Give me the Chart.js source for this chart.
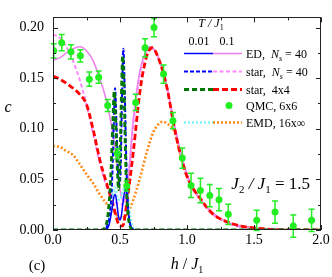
<!DOCTYPE html>
<html><head><meta charset="utf-8">
<script src="https://cdn.jsdelivr.net/npm/chart.js@4/dist/chart.umd.min.js"></script>
<style>html,body{margin:0;padding:0;background:#fff;}#wrap{width:332px;height:277px;position:relative;}</style>
</head><body><div id="wrap"><canvas id="c" width="332" height="277"></canvas></div>
<script>
// ---- tick labels ----
const xTicks = [0, 0.5, 1.0, 1.5, 2.0];
const yTicks = [0, 0.05, 0.10, 0.15, 0.20];

// ---- ED, Ns=40, T=0.01 (blue solid) ----
const edLowH = [0, 0.36, 0.40, 0.42, 0.44, 0.455, 0.465, 0.475, 0.49, 0.50, 0.51, 0.525, 0.54, 0.55, 0.56, 0.58, 0.62, 2.0];
const edLowC = [0, 0, 0.001, 0.006, 0.020, 0.033, 0.035, 0.028, 0.012, 0.010, 0.014, 0.030, 0.040, 0.036, 0.020, 0.004, 0, 0];

// ---- ED, Ns=40, T=0.1 (violet solid) ----
const edHighH = [0, 0.05, 0.1, 0.15, 0.2, 0.25, 0.3, 0.35, 0.4, 0.45, 0.48, 0.5, 0.53, 0.56, 0.6, 0.65, 0.7, 0.72, 0.75, 0.8, 0.85, 0.9, 0.95, 1.0, 1.05, 1.1, 1.2, 1.3, 1.4, 1.5, 1.6, 1.8, 2.0];
const edHighC = [0.168, 0.170, 0.175, 0.179, 0.181, 0.177, 0.167, 0.149, 0.127, 0.092, 0.062, 0.040, 0.028, 0.050, 0.110, 0.158, 0.178, 0.181, 0.179, 0.166, 0.142, 0.108, 0.078, 0.055, 0.040, 0.030, 0.016, 0.008, 0.004, 0.002, 0.001, 0.0002, 0];

// ---- star, Ns=40, T=0.01 (blue dashed) ----
const starLowH = [0, 0.37, 0.40, 0.42, 0.44, 0.455, 0.463, 0.475, 0.485, 0.495, 0.505, 0.515, 0.525, 0.535, 0.545, 0.555, 0.575, 0.61, 2.0];
const starLowC = [0, 0, 0.003, 0.012, 0.045, 0.110, 0.140, 0.100, 0.060, 0.045, 0.060, 0.130, 0.179, 0.140, 0.080, 0.035, 0.006, 0, 0];

// ---- star, Ns=40, T=0.1 (pink dashed) ----
const starHighH = [0, 0.05, 0.1, 0.15, 0.2, 0.25, 0.3, 0.35, 0.4, 0.45, 0.5, 0.53, 0.56, 0.6, 0.65, 0.7, 0.72, 0.75, 0.8, 0.85, 0.9, 0.95, 1.0, 1.1, 1.2, 1.3, 1.4, 1.5, 1.6, 1.8, 2.0];
const starHighC = [0.193, 0.190, 0.181, 0.167, 0.148, 0.124, 0.095, 0.066, 0.043, 0.030, 0.025, 0.028, 0.048, 0.105, 0.155, 0.177, 0.180, 0.178, 0.165, 0.141, 0.107, 0.077, 0.054, 0.029, 0.015, 0.007, 0.003, 0.001, 0.0005, 0.0001, 0];

// ---- star, 4x4, T=0.01 (green dashed) ----
const star4LowH = [0, 0.36, 0.39, 0.41, 0.43, 0.445, 0.457, 0.47, 0.48, 0.49, 0.50, 0.51, 0.52, 0.53, 0.54, 0.55, 0.57, 0.60, 2.0];
const star4LowC = [0, 0, 0.003, 0.015, 0.050, 0.100, 0.137, 0.100, 0.060, 0.040, 0.070, 0.130, 0.172, 0.140, 0.080, 0.035, 0.006, 0, 0];

// ---- star, 4x4, T=0.1 (red dashed) ----
const star4HighH = [0, 0.05, 0.1, 0.15, 0.2, 0.25, 0.3, 0.35, 0.4, 0.45, 0.5, 0.52, 0.55, 0.6, 0.65, 0.7, 0.74, 0.8, 0.85, 0.9, 0.95, 1.0, 1.05, 1.1, 1.15, 1.2, 1.3, 1.4, 1.5, 1.6, 1.7, 2.0];
const star4HighC = [0.152, 0.149, 0.145, 0.140, 0.134, 0.124, 0.099, 0.069, 0.046, 0.024, 0.004, 0.004, 0.026, 0.078, 0.138, 0.172, 0.180, 0.165, 0.141, 0.105, 0.075, 0.053, 0.040, 0.031, 0.022, 0.015, 0.008, 0.004, 0.002, 0.0008, 0.0003, 0];

// ---- EMD, 16x∞, T=0.01 (cyan dotted) ----
const emdLowH = [0, 0.38, 0.41, 0.43, 0.45, 0.46, 0.48, 0.50, 0.52, 0.54, 0.56, 0.58, 0.61, 2.0];
const emdLowC = [0, 0, 0.004, 0.020, 0.038, 0.042, 0.032, 0.030, 0.038, 0.042, 0.030, 0.010, 0, 0];

// ---- EMD, 16x∞, T=0.1 (orange dotted) ----
const emdHighH = [0, 0.05, 0.1, 0.15, 0.2, 0.25, 0.3, 0.35, 0.4, 0.45, 0.5, 0.55, 0.6, 0.65, 0.7, 0.75, 0.8, 0.82, 0.85, 0.9, 0.95, 1.0, 1.1, 1.2, 1.3, 1.4, 1.5, 1.6, 1.8, 2.0];
const emdHighC = [0.083, 0.082, 0.078, 0.074, 0.065, 0.055, 0.046, 0.035, 0.026, 0.019, 0.012, 0.015, 0.030, 0.052, 0.077, 0.097, 0.106, 0.107, 0.105, 0.099, 0.075, 0.053, 0.031, 0.015, 0.008, 0.004, 0.002, 0.0008, 0.0001, 0];

// ---- QMC, 6x6 (green points with error bars) ----
const qmcH = [0.005, 0.065, 0.134, 0.204, 0.271, 0.341, 0.408, 0.48, 0.55, 0.617, 0.687, 0.754, 0.825, 0.895, 0.965, 1.03, 1.10, 1.17, 1.239, 1.308, 1.52, 1.657, 1.793, 1.93];
const qmcC = [0.177, 0.185, 0.176, 0.172, 0.149, 0.151, 0.123, 0.0755, 0.0434, 0.126, 0.180, 0.200, 0.154, 0.108, 0.071, 0.044, 0.039, 0.034, 0.030, 0.0155, 0.0096, 0.0177, 0.0039, 0.0096];
const qmcErr = [0.007, 0.008, 0.007, 0.006, 0.007, 0.006, 0.006, 0.005, 0.005, 0.008, 0.009, 0.009, 0.009, 0.008, 0.010, 0.012, 0.012, 0.011, 0.011, 0.010, 0.010, 0.011, 0.011, 0.011];

const pts = (hs, cs) => hs.map((h, i) => ({x: h, y: cs[i]}));

const SERIF = '"Liberation Serif", "DejaVu Serif", serif';
const C_BLUE = '#0000ff', C_VIOLET = '#ee82ee', C_PINK = '#ff88ff', C_DGREEN = '#007800',
      C_RED = '#ff0000', C_QMC = '#22ee22', C_CYAN = '#7ff5f5', C_ORANGE = '#ff8c1a';

function line(label, data, color, width, dash, extra) {
  return Object.assign({label, data, borderColor: color, backgroundColor: color, borderWidth: width,
    borderDash: dash, pointRadius: 0, showLine: true, tension: 0.35, cubicInterpolationMode: 'monotone', fill: false}, extra || {});
}

const datasets = [
  {label: 'QMC, 6x6', data: pts(qmcH, qmcC), showLine: false, pointRadius: 3.5, pointBackgroundColor: C_QMC, pointBorderColor: C_QMC, borderColor: C_QMC, backgroundColor: C_QMC, pointBorderWidth: 0},
  line('star, 4x4 T=0.01', pts(star4LowH, star4LowC), C_DGREEN, 2.8, [5, 3]),
  line('star, Ns=40 T=0.01', pts(starLowH, starLowC), C_BLUE, 2, [4, 2]),
  line('ED, Ns=40 T=0.01', pts(edLowH, edLowC), C_BLUE, 1.5, []),
  line('EMD T=0.01', pts(emdLowH, emdLowC), C_CYAN, 2.6, [2, 2]),
  line('star, 4x4 T=0.1', pts(star4HighH, star4HighC), C_RED, 2.8, [6, 3]),
  line('ED, Ns=40 T=0.1', pts(edHighH, edHighC), C_VIOLET, 1.6, []),
  line('star, Ns=40 T=0.1', pts(starHighH, starHighC), C_PINK, 2, [4, 2.5]),
  line('EMD T=0.1', pts(emdHighH, emdHighC), C_ORANGE, 2.6, [2, 2]),
];

function drawRich(ctx, parts, x, y, align) {
  let w = 0;
  parts.forEach(p => { ctx.font = p.font; p.w = ctx.measureText(p.t).width; w += p.w; });
  let cx = align === 'right' ? x - w : (align === 'center' ? x - w / 2 : x);
  ctx.textAlign = 'left'; ctx.textBaseline = 'alphabetic';
  parts.forEach(p => { ctx.font = p.font; ctx.fillText(p.t, cx, y + (p.dy || 0)); cx += p.w; });
}

const decor = {
  id: 'decor',
  afterDatasetsDraw(chart) {
    const ctx = chart.ctx, xs = chart.scales.x, ys = chart.scales.y;
    // error bars
    ctx.save();
    ctx.strokeStyle = C_QMC; ctx.lineWidth = 1.5; ctx.setLineDash([]);
    qmcH.forEach((h, i) => {
      const px = xs.getPixelForValue(h);
      const y1 = ys.getPixelForValue(qmcC[i] - qmcErr[i]);
      const y2 = ys.getPixelForValue(qmcC[i] + qmcErr[i]);
      ctx.beginPath();
      ctx.moveTo(px, y1); ctx.lineTo(px, y2);
      ctx.moveTo(px - 3, y1); ctx.lineTo(px + 3, y1);
      ctx.moveTo(px - 3, y2); ctx.lineTo(px + 3, y2);
      ctx.stroke();
    });
    ctx.restore();
  },
  afterDraw(chart) {
    const ctx = chart.ctx, xs = chart.scales.x, ys = chart.scales.y, a = chart.chartArea;
    ctx.save();
    // frame
    ctx.strokeStyle = '#222'; ctx.lineWidth = 1; ctx.setLineDash([]);
    ctx.strokeRect(Math.round(a.left) + 0.5, Math.round(a.top) + 0.5, Math.round(a.right - a.left) - 1, Math.round(a.bottom - a.top) - 1);
    // ticks (inward, on all sides)
    ctx.beginPath();
    for (let v = 0; v <= 2.0001; v += 0.25) {
      const px = Math.round(xs.getPixelForValue(v)) + 0.5;
      const len = (Math.abs(v / 0.5 - Math.round(v / 0.5)) < 1e-6) ? 5 : 3;
      ctx.moveTo(px, a.bottom); ctx.lineTo(px, a.bottom - len);
      ctx.moveTo(px, a.top); ctx.lineTo(px, a.top + len);
    }
    for (let v = 0; v <= 0.2001; v += 0.025) {
      const py = Math.round(ys.getPixelForValue(v)) + 0.5;
      const len = (Math.abs(v / 0.05 - Math.round(v / 0.05)) < 1e-6) ? 5 : 3;
      ctx.moveTo(a.left, py); ctx.lineTo(a.left + len, py);
      ctx.moveTo(a.right, py); ctx.lineTo(a.right - len, py);
    }
    ctx.stroke();

    ctx.fillStyle = '#000';
    // axis titles
    drawRich(ctx, [{t: 'c', font: 'italic 16px ' + SERIF}], 8, 112, 'center');
    drawRich(ctx, [
      {t: 'h', font: 'italic 16px ' + SERIF},
      {t: ' / ', font: '16px ' + SERIF},
      {t: 'J', font: 'italic 16px ' + SERIF},
      {t: '1', font: '10px ' + SERIF, dy: 4}
    ], xs.getPixelForValue(1.0), 269, 'center');
    drawRich(ctx, [{t: '(c)', font: '15px ' + SERIF}], 37, 270, 'center');
    // J2/J1 annotation
    drawRich(ctx, [
      {t: 'J', font: 'italic 17px ' + SERIF},
      {t: '2', font: '11px ' + SERIF, dy: 4},
      {t: ' / ', font: 'italic 17px ' + SERIF},
      {t: 'J', font: 'italic 17px ' + SERIF},
      {t: '1', font: '11px ' + SERIF, dy: 4},
      {t: ' = 1.5', font: '17px ' + SERIF}
    ], 310, 189, 'right');

    // legend
    const x0 = 184, xm = 213, x1 = 242, tx = 246;
    drawRich(ctx, [
      {t: 'T', font: 'italic 12px ' + SERIF},
      {t: ' / ', font: 'italic 12px ' + SERIF},
      {t: 'J', font: 'italic 12px ' + SERIF},
      {t: '1', font: '8px ' + SERIF, dy: 3}
    ], 211, 27, 'center');
    drawRich(ctx, [{t: '0.01', font: '12px ' + SERIF}], 199, 45, 'center');
    drawRich(ctx, [{t: '0.1', font: '12px ' + SERIF}], 227, 45, 'center');
    const rows = [
      {y: 53.5, c1: C_BLUE, c2: C_VIOLET, w1: 1.5, w2: 1.6, d1: [], d2: [],
        txt: [{t: 'ED,  ', font: '12px ' + SERIF}, {t: 'N', font: 'italic 12px ' + SERIF}, {t: 's', font: 'italic 8px ' + SERIF, dy: 3}, {t: ' = 40', font: '12px ' + SERIF}]},
      {y: 71.5, c1: C_BLUE, c2: C_PINK, w1: 2, w2: 2, d1: [4, 2], d2: [4, 2.5],
        txt: [{t: 'star,  ', font: '12px ' + SERIF}, {t: 'N', font: 'italic 12px ' + SERIF}, {t: 's', font: 'italic 8px ' + SERIF, dy: 3}, {t: ' = 40', font: '12px ' + SERIF}]},
      {y: 89.5, c1: C_DGREEN, c2: C_RED, w1: 2.8, w2: 2.8, d1: [5, 3], d2: [6, 3],
        txt: [{t: 'star,  4x4', font: '12px ' + SERIF}]},
      {y: 105.5, qmc: true,
        txt: [{t: 'QMC, 6x6', font: '12px ' + SERIF}]},
      {y: 122.5, c1: C_CYAN, c2: C_ORANGE, w1: 2.6, w2: 2.6, d1: [2, 2], d2: [2, 2],
        txt: [{t: 'EMD, 16x\u221E', font: '12px ' + SERIF}]},
    ];
    rows.forEach(r => {
      if (r.qmc) {
        ctx.fillStyle = C_QMC;
        ctx.beginPath(); ctx.arc(229, r.y, 3.5, 0, Math.PI * 2); ctx.fill();
      } else {
        ctx.lineWidth = r.w1; ctx.strokeStyle = r.c1; ctx.setLineDash(r.d1);
        ctx.beginPath(); ctx.moveTo(x0, r.y); ctx.lineTo(xm, r.y); ctx.stroke();
        ctx.lineWidth = r.w2; ctx.strokeStyle = r.c2; ctx.setLineDash(r.d2);
        ctx.beginPath(); ctx.moveTo(xm, r.y); ctx.lineTo(x1, r.y); ctx.stroke();
        ctx.setLineDash([]);
      }
      ctx.fillStyle = '#000';
      drawRich(ctx, r.txt, tx, r.y + 4, 'left');
    });
    ctx.restore();
  }
};

new Chart(document.getElementById('c'), {
  type: 'scatter',
  data: {datasets},
  options: {
    responsive: false, devicePixelRatio: 1, animation: false,
    layout: {padding: {top: 12, right: 11, left: 0, bottom: 0}},
    plugins: {legend: {display: false}, tooltip: {enabled: false}},
    scales: {
      x: {
        type: 'linear', min: 0, max: 2,
        afterBuildTicks: s => { s.ticks = xTicks.map(v => ({value: v})); },
        afterFit: s => { s.height = 47; },
        ticks: {callback: v => Number(v).toFixed(1), font: {family: SERIF, size: 14}, color: '#000', padding: 2, maxRotation: 0, autoSkip: false},
        grid: {display: false, drawTicks: false}, border: {display: false}
      },
      y: {
        type: 'linear', min: 0, max: 0.21,
        afterBuildTicks: s => { s.ticks = yTicks.map(v => ({value: v})); },
        afterFit: s => { s.width = 53; },
        ticks: {callback: v => Number(v).toFixed(2), font: {family: SERIF, size: 14}, color: '#000', padding: 9, autoSkip: false},
        grid: {display: false, drawTicks: false}, border: {display: false}
      }
    }
  },
  plugins: [decor]
});
</script>
</body></html>
